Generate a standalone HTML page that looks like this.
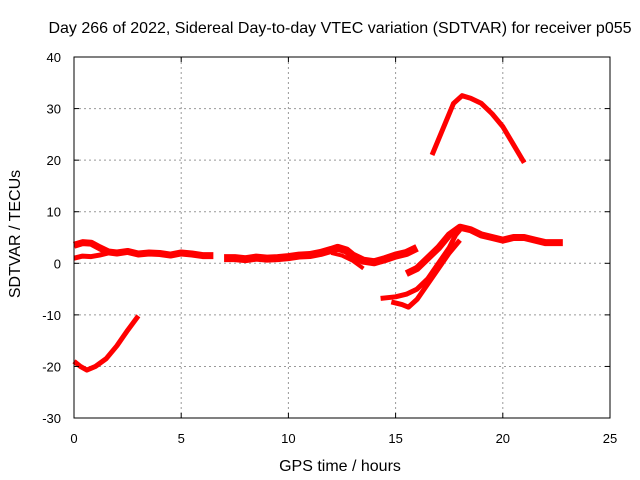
<!DOCTYPE html>
<html><head><meta charset="utf-8"><style>
body{margin:0;background:#fff}
svg{display:block;font-family:"Liberation Sans",sans-serif}
</style></head><body>
<svg id="chart" width="640" height="480">
<text x="340" y="33" font-size="16" text-anchor="middle">Day 266 of 2022, Sidereal Day-to-day VTEC variation (SDTVAR) for receiver p055</text>
<text x="340" y="471" font-size="16" text-anchor="middle">GPS time / hours</text>
<text transform="translate(20,234) rotate(-90)" font-size="16" text-anchor="middle">SDTVAR / TECUs</text>
<g id="grid"></g><g id="series"></g><g id="axes"></g>
</svg>
<script>
const xTicks=[0,5,10,15,20,25];
const yTicks=[-30,-20,-10,0,10,20,30,40];
const segLowX=[0,0.3,0.6,1,1.5,2,2.5,3];
const segLowY=[-19,-20,-20.7,-20,-18.5,-16,-13,-10.2];
const segAX=[0,0.4,0.8,1.2,1.6,2,2.5,3,3.5,4,4.5,5,5.5,6,6.5];
const segAY=[3.5,4,3.9,3,2.2,2,2.3,1.8,2,1.9,1.6,2,1.8,1.5,1.5];
const segA2X=[0,0.4,0.8,1.2,1.6,2];
const segA2Y=[1,1.4,1.3,1.6,2,2];
const segBX=[7,7.5,8,8.5,9,9.5,10,10.5,11,11.5,12,12.3,12.7,13,13.5,14,14.5,15,15.5,16];
const segBY=[1,1,0.8,1.1,0.9,1,1.2,1.5,1.6,2,2.6,3,2.5,1.5,0.5,0.2,0.8,1.5,2,3];
const segB2X=[12,12.5,13,13.5];
const segB2Y=[2,1.5,0.5,-1];
const segPeakX=[16.7,17.2,17.7,18.1,18.5,19,19.5,20,20.5,21];
const segPeakY=[21,26,31,32.5,32,31,29,26.5,23,19.5];
const segEX=[15.5,16,16.5,17,17.5,18,18.5,19,19.5,20,20.5,21,21.5,22,22.8];
const segEY=[-2,-1,1,3,5.5,7,6.5,5.5,5,4.5,5,5,4.5,4,4];
const segFX=[14.3,15,15.5,16,16.5,17,17.5,17.8,18];
const segFY=[-6.8,-6.5,-6,-5,-3,0,3,5.5,6.5];
const segGX=[14.8,15.3,15.6,16,16.5,17,17.5,18];
const segGY=[-7.5,-8,-8.5,-7,-4,-1,2,4.5];
const series=[[segLowX,segLowY,5],[segAX,segAY,7],[segA2X,segA2Y,5],[segBX,segBY,8],[segB2X,segB2Y,4],[segPeakX,segPeakY,5],[segEX,segEY,7],[segFX,segFY,5],[segGX,segGY,5]];
const X=h=>74+h*(536/25);
const Y=v=>263.3-v*(361/70);
const NS="http://www.w3.org/2000/svg";
const grid=document.getElementById('grid'),axes=document.getElementById('axes'),ser=document.getElementById('series');
function mk(tag,at,parent){const e=document.createElementNS(NS,tag);for(const k in at)e.setAttribute(k,at[k]);parent.appendChild(e);return e;}
xTicks.forEach(t=>{
 if(t>0&&t<25){const g=mk('line',{x1:X(t),x2:X(t),y1:57,y2:418,stroke:'#999','stroke-dasharray':'2,3'},grid);
 
 }
 const l=mk('text',{x:X(t),y:443,'font-size':13,'text-anchor':'middle'},axes);l.textContent=t;
 
 
 mk('line',{x1:X(t),x2:X(t),y1:418,y2:413,stroke:'#000'},axes);
 mk('line',{x1:X(t),x2:X(t),y1:57,y2:62,stroke:'#000'},axes);
});
yTicks.forEach(t=>{
 if(t>-30&&t<40){const g=mk('line',{x1:74,x2:610,y1:Y(t),y2:Y(t),stroke:'#999','stroke-dasharray':'2,3'},grid);
 
 }
 const l=mk('text',{x:61,y:Y(t)+5,'font-size':13,'text-anchor':'end'},axes);l.textContent=t;
 
 
 mk('line',{x1:74,x2:79,y1:Y(t),y2:Y(t),stroke:'#000'},axes);
 mk('line',{x1:605,x2:610,y1:Y(t),y2:Y(t),stroke:'#000'},axes);
});
const fr=mk('rect',{x:74,y:57,width:536,height:361,fill:'none',stroke:'#000'},axes);


series.forEach(s=>{
 const pts=s[0].map((h,i)=>X(h)+','+Y(s[1][i])).join(' ');
 const p=mk('polyline',{points:pts,fill:'none',stroke:'#f00','stroke-width':s[2],'stroke-linejoin':'round'},ser);
 
 
});
</script>
</body></html>
